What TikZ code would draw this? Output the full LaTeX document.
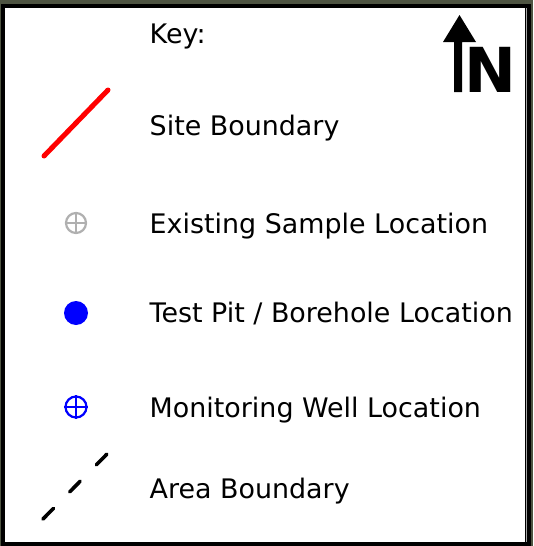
\documentclass[tikz,border=0pt]{standalone}
\usepackage{fontspec}
\setmainfont{DejaVu Sans}
\definecolor{mapbg}{RGB}{78,84,66}
\definecolor{samplegray}{RGB}{176,176,176}
\begin{document}
\begin{tikzpicture}[x=1pt,y=-1pt,
  keytext/.style={anchor=base west,inner sep=0pt,font=\fontsize{26.9}{32}\selectfont},
  ringmark/.style={line width=2.2pt},
]
\useasboundingbox (0,0) rectangle (533,546);
% map backdrop and frame
\fill[mapbg] (0,0) rectangle (533,546);
\fill[black] (1,4) rectangle (531,546);
\fill[white] (5,8) rectangle (525,542);
\draw[gray!70,line width=0.8pt] (526.5,8) -- (526.5,542);

% title
\node[keytext] (key) at (149.5,43) {Key:};

% north arrow
\fill[black] (459.5,15) -- (476,42) -- (462,42) -- (462,92) -- (454,92) -- (454,42) -- (443,42) -- cycle;
\node[anchor=base west,inner sep=0pt,font=\bfseries\fontsize{62}{70}\selectfont] (north) at (464.5,92) {N};

% site boundary
\draw[red,line width=5pt,line cap=round] (44,156) -- (108,90);
\node[keytext] (site) at (149.5,135) {Site Boundary};

% existing sample location
\node[circle,draw=samplegray,ringmark,minimum size=20pt,inner sep=0pt] (exist) at (76,223) {};
\draw[samplegray,ringmark] (exist.north) -- (exist.south) (exist.west) -- (exist.east);
\node[keytext] (existt) at (149.5,233) {Existing Sample Location};

% test pit / borehole location
\node[circle,fill=blue,minimum size=24pt,inner sep=0pt] (pit) at (76,313) {};
\node[keytext] (pitt) at (149.5,322) {Test Pit / Borehole Location};

% monitoring well location
\node[circle,draw=blue,ringmark,minimum size=21pt,inner sep=0pt] (well) at (76,407) {};
\draw[blue,ringmark] (well.north) -- (well.south) (well.west) -- (well.east);
\node[keytext] (wellt) at (149.5,417) {Monitoring Well Location};

% area boundary
\draw[black,line width=3.6pt,line cap=round,dash pattern=on 15pt off 23pt] (43,519) -- (108,453);
\node[keytext] (area) at (149.5,498) {Area Boundary};
\end{tikzpicture}
\end{document}
